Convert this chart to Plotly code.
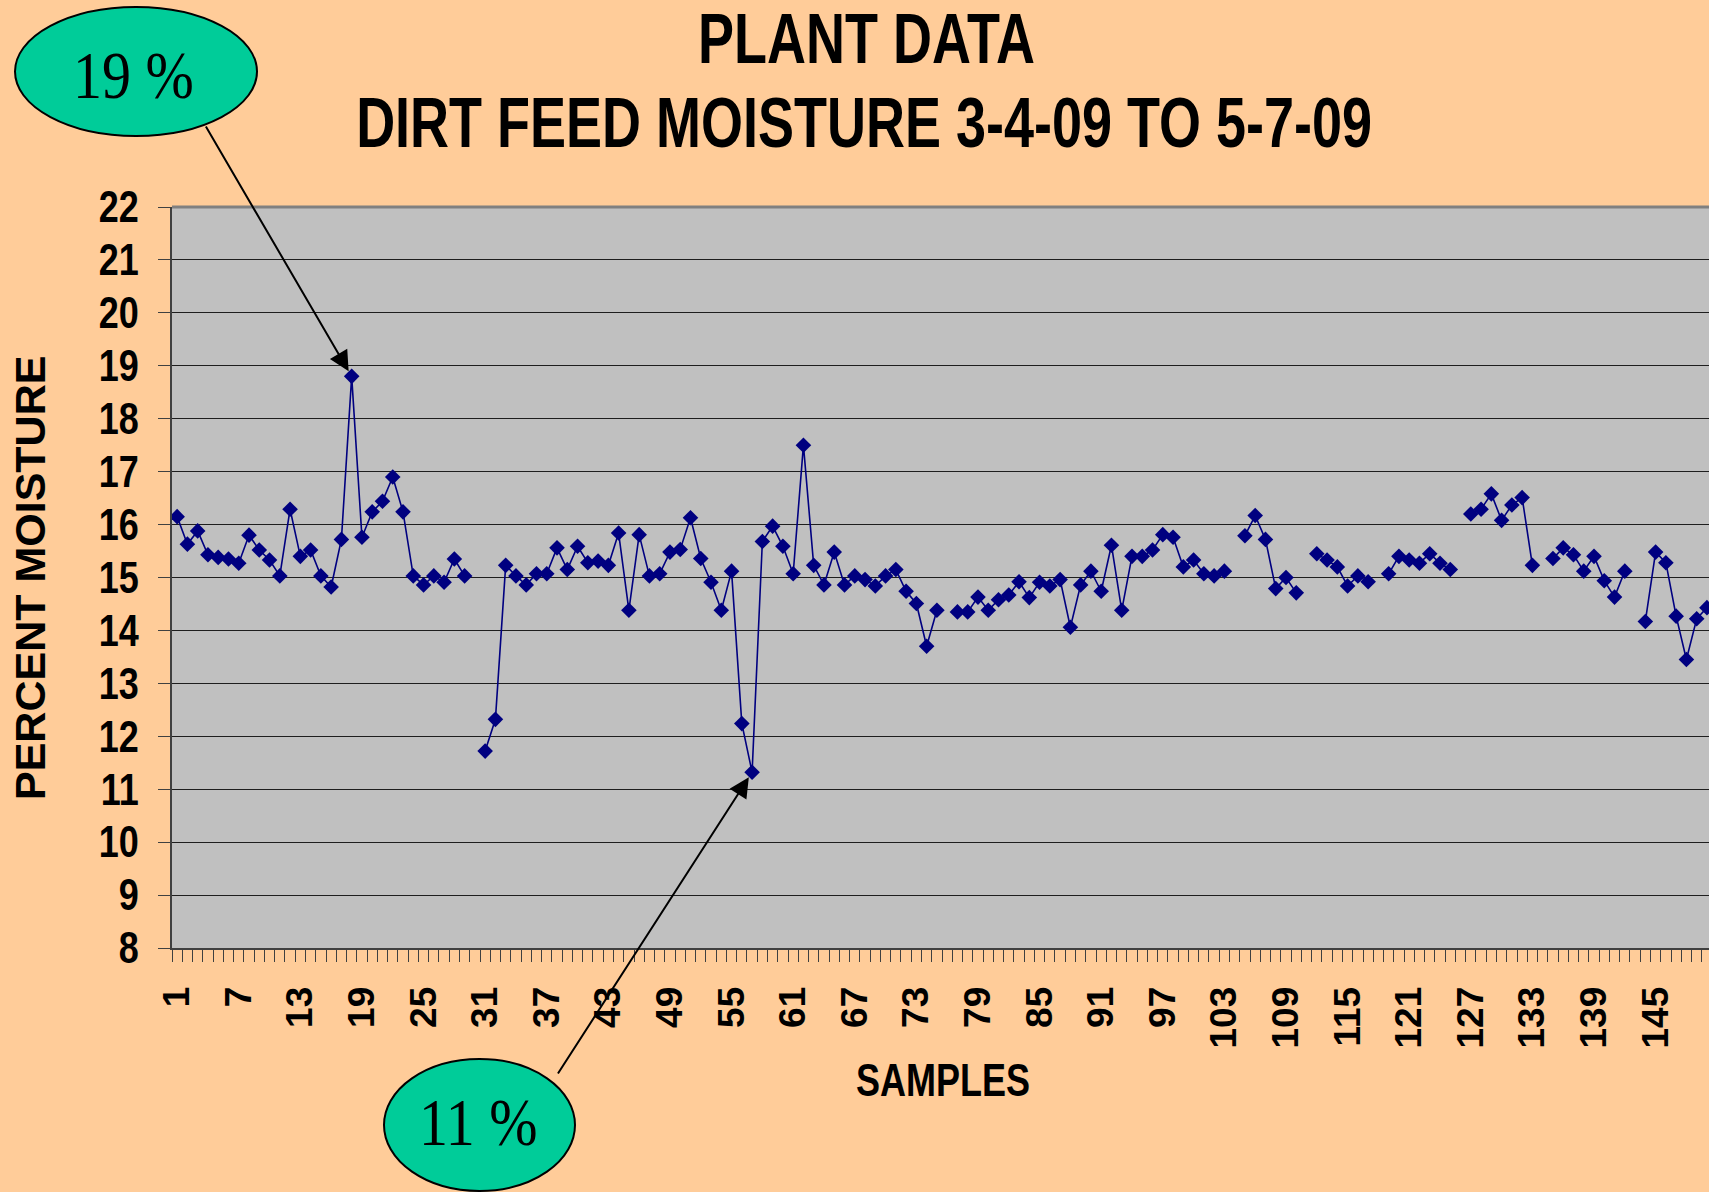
import plotly.graph_objects as go

# ---------------- data ----------------
samples = list(range(1, 152))
moisture = [
    16.15, 15.63, 15.88, 15.43, 15.38, 15.35, 15.27, 15.80, 15.52, 15.33,
    15.03, 16.29, 15.40, 15.52, 15.03, 14.82, 15.72, 18.80, 15.76, 16.24,
    16.44, 16.90, 16.24, 15.03, 14.86, 15.03, 14.91, 15.35, 15.03, None,
    11.72, 12.32, 15.23, 15.03, 14.86, 15.07, 15.07, 15.56, 15.15, 15.59,
    15.28, 15.31, 15.23, 15.84, 14.38, 15.81, 15.03, 15.07, 15.48, 15.53,
    16.13, 15.36, 14.91, 14.38, 15.12, 12.24, 11.32, 15.68, 15.97, 15.59,
    15.07, 17.50, 15.23, 14.86, 15.48, 14.86, 15.03, 14.96, 14.84, 15.03,
    15.15, 14.74, 14.51, 13.70, 14.38, None, 14.35, 14.35, 14.63, 14.38,
    14.58, 14.67, 14.92, 14.62, 14.91, 14.84, 14.96, 14.06, 14.86, 15.12,
    14.74, 15.61, 14.38, 15.40, 15.40, 15.52, 15.81, 15.76, 15.20, 15.33,
    15.07, 15.03, 15.12, None, 15.79, 16.17, 15.72, 14.79, 15.00, 14.71,
    None, 15.45, 15.33, 15.20, 14.84, 15.03, 14.92, None, 15.07, 15.40,
    15.33, 15.27, 15.45, 15.27, 15.15, None, 16.20, 16.29, 16.58, 16.08,
    16.37, 16.51, 15.23, None, 15.36, 15.56, 15.43, 15.12, 15.40, 14.94,
    14.63, 15.12, None, 14.17, 15.48, 15.28, 14.27, 13.45, 14.22, 14.43,
    14.60,
]
tick_vals = list(range(1, 152, 6))
tick_text = [str(v) for v in tick_vals]
y_ticks = list(range(8, 23))
title_lines = ["PLANT DATA", "DIRT FEED MOISTURE 3-4-09 TO 5-7-09"]
callouts = [("19 %", 18), ("11 %", 57)]

# ---------------- layout geometry (pixels) ----------------
W, H = 1709, 1192
L, R, T, B = 172, 0, 207, 244
PW, PH = W - L - R, H - T - B
XMIN, XMAX = 0.5, 150.2


def px(xp):
    return (xp - L) / PW


def py(yp):
    return (H - B - yp) / PH


SANS = "Liberation Sans, Arial, sans-serif"
SERIF = "Liberation Serif, Times New Roman, serif"
NAVY = "#000080"

fig = go.Figure()
fig.add_trace(go.Scatter(
    x=samples, y=moisture, mode="lines+markers",
    line=dict(color=NAVY, width=1.6),
    marker=dict(symbol="diamond", size=12, color=NAVY),
    connectgaps=False, showlegend=False, cliponaxis=True,
))

fig.update_layout(
    width=W, height=H,
    margin=dict(l=L, r=R, t=T, b=B, autoexpand=False),
    paper_bgcolor="#FFCC99", plot_bgcolor="#C0C0C0",
    showlegend=False,
)

fig.update_xaxes(
    range=[XMIN, XMAX], tickmode="array", tickvals=tick_vals, ticktext=tick_text,
    tickangle=-90, ticks="", showgrid=False, zeroline=False,
    tickfont=dict(family=SANS, size=37, color="black", weight="bold"),
    ticklabelstandoff=22,
    showline=True, linecolor="#404040", linewidth=2,
    minor=dict(tickmode="linear", tick0=0.5, dtick=1, ticks="outside",
               ticklen=12, tickcolor="#404040", tickwidth=1, showgrid=False),
    automargin=False,
)
fig.update_yaxes(
    range=[8, 22], tickmode="array", tickvals=y_ticks,
    ticks="outside", ticklen=12, tickcolor="#404040", tickwidth=1,
    showgrid=True, gridcolor="#1e1e1e", gridwidth=1, zeroline=False,
    showline=True, linecolor="#404040", linewidth=2,
    tickfont=dict(family=SANS, size=36, color="black", weight="bold"),
    ticklabelstandoff=12,
    automargin=False,
)

# top border of plot area
fig.add_shape(type="line", xref="paper", yref="paper", x0=0, x1=1, y0=1, y1=1,
              line=dict(color="#808080", width=3))

annotations = []
# titles
annotations.append(dict(text=title_lines[0], xref="paper", yref="paper",
                        x=px(866), y=py(38), xanchor="center", yanchor="middle",
                        showarrow=False,
                        font=dict(family=SANS, size=54, color="black", weight="bold")))
annotations.append(dict(text=title_lines[1], xref="paper", yref="paper",
                        x=px(864), y=py(122), xanchor="center", yanchor="middle",
                        showarrow=False,
                        font=dict(family=SANS, size=54, color="black", weight="bold")))
# axis titles
annotations.append(dict(text="SAMPLES", xref="paper", yref="paper",
                        x=px(943), y=py(1079), xanchor="center", yanchor="middle",
                        showarrow=False,
                        font=dict(family=SANS, size=36, color="black", weight="bold")))
annotations.append(dict(text="PERCENT MOISTURE", xref="paper", yref="paper",
                        x=px(30), y=py(578), xanchor="center", yanchor="middle",
                        textangle=-90, showarrow=False,
                        font=dict(family=SANS, size=43, color="black", weight="bold")))

# callout ellipses
ell = [(15, 7, 257, 136), (384, 1059, 575, 1191)]
txt_pos = [(133, 75), (478, 1122)]
arrow_tail = [(205, 125), (557, 1075)]
for (label, idx), (x0, y0, x1, y1), (tx, ty), (ax_, ay_) in zip(callouts, ell, txt_pos, arrow_tail):
    fig.add_shape(type="circle", xref="paper", yref="paper",
                  x0=px(x0), x1=px(x1), y0=py(y1), y1=py(y0),
                  fillcolor="#00CC99", line=dict(color="black", width=2), layer="above")
    annotations.append(dict(text=label, xref="paper", yref="paper",
                            x=px(tx), y=py(ty), xanchor="center", yanchor="middle",
                            showarrow=False,
                            font=dict(family=SERIF, size=58, color="black")))
    # arrow to data point
    xv = samples[idx - 1]
    yv = moisture[idx - 1]
    x_pix = L + (xv - XMIN) / (XMAX - XMIN) * PW
    y_pix = T + (22 - yv) / 14 * PH
    annotations.append(dict(text="", x=xv, y=yv, xref="x", yref="y",
                            ax=ax_ - x_pix, ay=ay_ - y_pix,
                            showarrow=True, arrowhead=2, arrowsize=2,
                            arrowwidth=2, arrowcolor="black", standoff=6))

fig.update_layout(annotations=annotations)

post = """
document.body.style.margin='0';
document.body.style.overflow='hidden';
function stretch(t, k){
  try {
    var bb = t.getBBox();
    var cy = bb.y + bb.height/2;
    var orig = t.getAttribute('transform') || '';
    t.setAttribute('transform', orig + ' translate(0,' + cy + ') scale(1,' + k + ') translate(0,' + (-cy) + ')');
  } catch(e) {}
}
var S = {'PLANT DATA':1.3, 'DIRT FEED MOISTURE 3-4-09 TO 5-7-09':1.3, 'SAMPLES':1.3,
         '19 %':1.15, '11 %':1.15};
document.querySelectorAll('g.annotation text').forEach(function(t){
  var k = S[t.textContent];
  if (k) stretch(t, k);
});
document.querySelectorAll('g.ytick text').forEach(function(t){ stretch(t, 1.22); });
"""

fig.write_html("out.html", config={"displayModeBar": False}, post_script=post)
